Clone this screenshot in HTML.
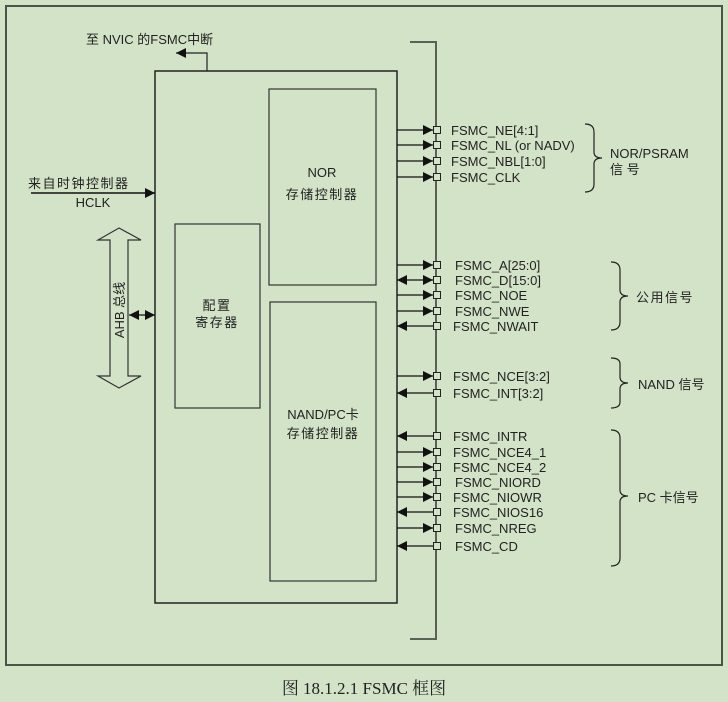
<!DOCTYPE html>
<html><head><meta charset="utf-8"><style>
html,body{margin:0;padding:0;background:#d3e3c7;}
svg{display:block}
text{font-family:"Liberation Sans","Noto Sans CJK SC",sans-serif;font-size:13px;fill:#222}
.cj{letter-spacing:1.5px}
.cap{font-family:"Liberation Serif","Noto Serif CJK SC",serif;font-size:17px}
</style></head><body>
<svg width="728" height="702" viewBox="0 0 728 702" xmlns="http://www.w3.org/2000/svg">
<defs>
<marker id="ar" viewBox="0 0 10 10" refX="10" refY="5" markerWidth="10" markerHeight="10" markerUnits="userSpaceOnUse" orient="auto-start-reverse"><path d="M0,0L10,5L0,10z" fill="#111"/></marker>
</defs>
<rect x="6" y="6" width="716" height="659" fill="none" stroke="#4a5448" stroke-width="2"/>
<path d="M410,42H436V639H410" fill="none" stroke="#5a6258" stroke-width="2"/>
<rect x="155" y="71" width="242" height="532" fill="none" stroke="#222" stroke-width="1.5"/>
<rect x="269" y="89" width="107" height="196" fill="none" stroke="#333" stroke-width="1.2"/>
<rect x="270" y="302" width="106" height="279" fill="none" stroke="#333" stroke-width="1.2"/>
<rect x="175" y="224" width="85" height="184" fill="none" stroke="#333" stroke-width="1.2"/>
<text x="322" y="177" text-anchor="middle">NOR</text>
<text class="cj" x="322" y="199" text-anchor="middle">存储控制器</text>
<text class="cj" x="217" y="310" text-anchor="middle">配置</text>
<text class="cj" x="217" y="327" text-anchor="middle">寄存器</text>
<text x="323" y="419" text-anchor="middle">NAND/PC卡</text>
<text class="cj" x="323" y="438" text-anchor="middle">存储控制器</text>
<path d="M207,71V53H176" fill="none" stroke="#222" stroke-width="1.2" marker-end="url(#ar)"/>
<text x="86" y="44">至 NVIC 的FSMC中断</text>
<line x1="31" y1="193" x2="155" y2="193" stroke="#111" stroke-width="1.5" marker-end="url(#ar)"/>
<text class="cj" x="28" y="188">来自时钟控制器</text>
<text x="93" y="207" text-anchor="middle">HCLK</text>
<path d="M119,228L141,240H128V376H141L119,388L98,376H110V240H98Z" fill="none" stroke="#333" stroke-width="1.2"/>
<text transform="translate(124,310) rotate(-90)" text-anchor="middle">AHB 总线</text>
<line x1="129" y1="315" x2="155" y2="315" stroke="#111" stroke-width="1.2" marker-start="url(#ar)" marker-end="url(#ar)"/>
<g stroke="#111" stroke-width="1.2" fill="none">
<line x1="397" y1="130" x2="433" y2="130" marker-end="url(#ar)"/>
<line x1="397" y1="145" x2="433" y2="145" marker-end="url(#ar)"/>
<line x1="397" y1="161" x2="433" y2="161" marker-end="url(#ar)"/>
<line x1="397" y1="177" x2="433" y2="177" marker-end="url(#ar)"/>
<line x1="397" y1="265" x2="433" y2="265" marker-end="url(#ar)"/>
<line x1="397" y1="280" x2="433" y2="280" marker-start="url(#ar)" marker-end="url(#ar)"/>
<line x1="397" y1="295" x2="433" y2="295" marker-end="url(#ar)"/>
<line x1="397" y1="311" x2="433" y2="311" marker-end="url(#ar)"/>
<line x1="397" y1="326" x2="433" y2="326" marker-start="url(#ar)"/>
<line x1="397" y1="376" x2="433" y2="376" marker-end="url(#ar)"/>
<line x1="397" y1="393" x2="433" y2="393" marker-start="url(#ar)"/>
<line x1="397" y1="436" x2="433" y2="436" marker-start="url(#ar)"/>
<line x1="397" y1="452" x2="433" y2="452" marker-end="url(#ar)"/>
<line x1="397" y1="467" x2="433" y2="467" marker-end="url(#ar)"/>
<line x1="397" y1="482" x2="433" y2="482" marker-end="url(#ar)"/>
<line x1="397" y1="497" x2="433" y2="497" marker-end="url(#ar)"/>
<line x1="397" y1="512" x2="433" y2="512" marker-start="url(#ar)"/>
<line x1="397" y1="528" x2="433" y2="528" marker-end="url(#ar)"/>
<line x1="397" y1="546" x2="433" y2="546" marker-start="url(#ar)"/>
</g>
<g fill="#d3e3c7" stroke="#222" stroke-width="1">
<rect x="433.5" y="126.5" width="7" height="7"/><rect x="433.5" y="141.5" width="7" height="7"/>
<rect x="433.5" y="157.5" width="7" height="7"/><rect x="433.5" y="173.5" width="7" height="7"/>
<rect x="433.5" y="261.5" width="7" height="7"/><rect x="433.5" y="276.5" width="7" height="7"/>
<rect x="433.5" y="291.5" width="7" height="7"/><rect x="433.5" y="307.5" width="7" height="7"/>
<rect x="433.5" y="322.5" width="7" height="7"/><rect x="433.5" y="372.5" width="7" height="7"/>
<rect x="433.5" y="389.5" width="7" height="7"/><rect x="433.5" y="432.5" width="7" height="7"/>
<rect x="433.5" y="448.5" width="7" height="7"/><rect x="433.5" y="463.5" width="7" height="7"/>
<rect x="433.5" y="478.5" width="7" height="7"/><rect x="433.5" y="493.5" width="7" height="7"/>
<rect x="433.5" y="508.5" width="7" height="7"/><rect x="433.5" y="524.5" width="7" height="7"/>
<rect x="433.5" y="542.5" width="7" height="7"/>
</g>
<g>
<text x="451" y="135">FSMC_NE[4:1]</text>
<text x="451" y="150">FSMC_NL (or NADV)</text>
<text x="451" y="166">FSMC_NBL[1:0]</text>
<text x="451" y="182">FSMC_CLK</text>
<text x="455" y="270">FSMC_A[25:0]</text>
<text x="455" y="285">FSMC_D[15:0]</text>
<text x="455" y="300">FSMC_NOE</text>
<text x="455" y="316">FSMC_NWE</text>
<text x="453" y="331">FSMC_NWAIT</text>
<text x="453" y="381">FSMC_NCE[3:2]</text>
<text x="453" y="398">FSMC_INT[3:2]</text>
<text x="453" y="441">FSMC_INTR</text>
<text x="453" y="457">FSMC_NCE4_1</text>
<text x="453" y="472">FSMC_NCE4_2</text>
<text x="455" y="487">FSMC_NIORD</text>
<text x="453" y="502">FSMC_NIOWR</text>
<text x="453" y="517">FSMC_NIOS16</text>
<text x="455" y="533">FSMC_NREG</text>
<text x="455" y="551">FSMC_CD</text>
</g>
<g fill="none" stroke="#222" stroke-width="1.2">
<path d="M585,124q9,0 9,8v20q0,6 8,6q-8,0 -8,6v20q0,8 -9,8"/>
<path d="M611,262q9,0 9,8v20q0,6 8,6q-8,0 -8,6v20q0,8 -9,8"/>
<path d="M611,358q9,0 9,6v13q0,6 8,6q-8,0 -8,6v13q0,6 -9,6"/>
<path d="M611,430q9,0 9,8v52q0,6 8,6q-8,0 -8,6v56q0,8 -9,8"/>
</g>
<text x="610" y="158">NOR/PSRAM</text>
<text x="610" y="174">信 号</text>
<text class="cj" x="636" y="302">公用信号</text>
<text x="638" y="389">NAND 信号</text>
<text x="638" y="502">PC 卡信号</text>
<text class="cap" x="364" y="694" text-anchor="middle">图 18.1.2.1 FSMC 框图</text>
</svg>
</body></html>
